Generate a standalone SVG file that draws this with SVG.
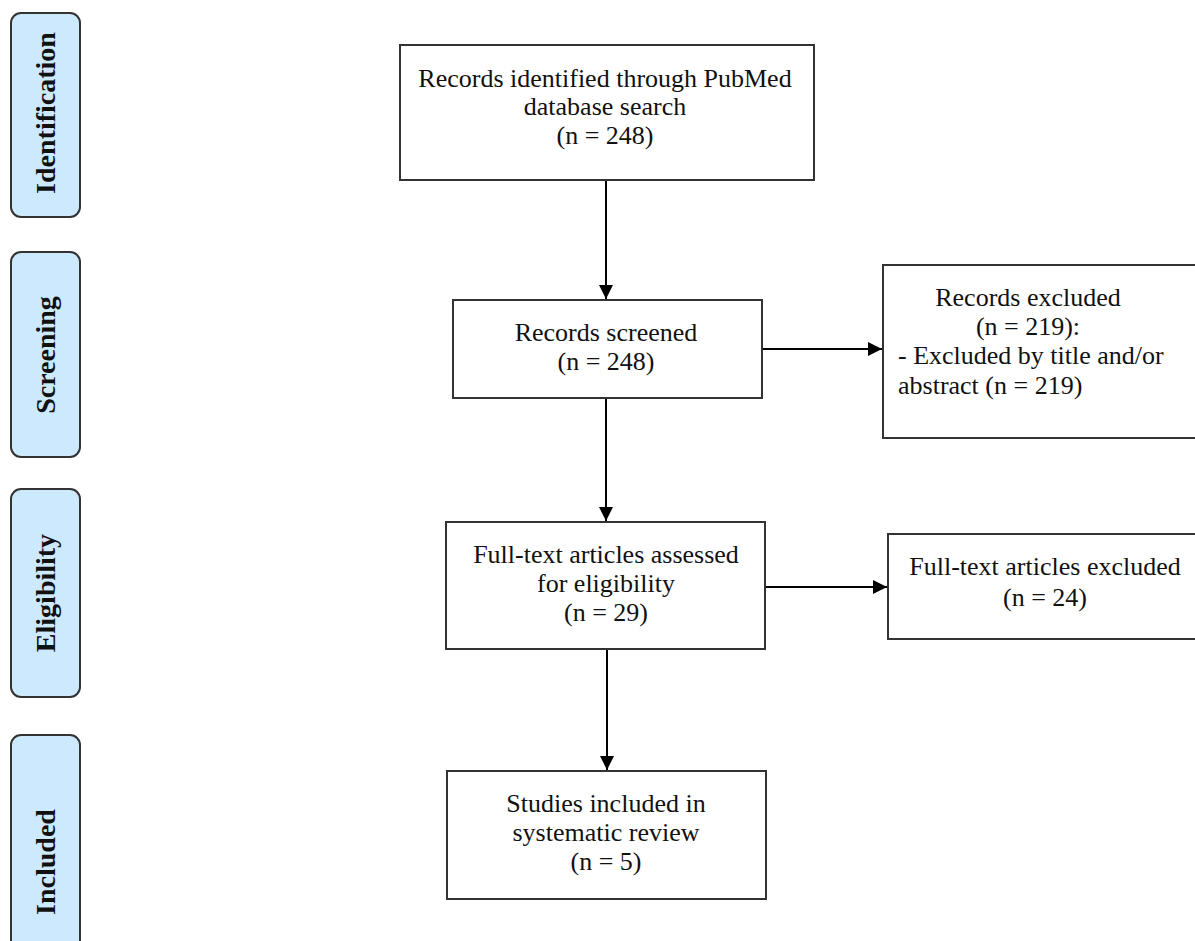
<svg xmlns="http://www.w3.org/2000/svg" width="1195" height="941" viewBox="0 0 1195 941">
<defs>
<marker id="ah" viewBox="0 0 14 14" refX="14" refY="7" markerWidth="14" markerHeight="14" markerUnits="userSpaceOnUse" orient="auto">
<path d="M0,0 L14,7 L0,14 z" fill="#000"/>
</marker>
<style>
.box{fill:#fff;stroke:#333;stroke-width:2}
.side{fill:#cce9fd;stroke:#333;stroke-width:2}
.t{font-family:"Liberation Serif","Times New Roman",serif;font-size:26px;fill:#111}
.c{text-anchor:middle}
.s{font-family:"Liberation Serif","Times New Roman",serif;font-size:28px;font-weight:bold;fill:#111;text-anchor:middle}
.ln{stroke:#000;stroke-width:2;fill:none;marker-end:url(#ah)}
</style>
</defs>
<rect width="1195" height="941" fill="#fff"/>
<g id="stage-identification">
<rect class="side" x="11" y="13" width="69" height="204" rx="10"/>
<text class="s" transform="translate(55,113) rotate(-90)">Identification</text>
</g>
<g id="stage-screening">
<rect class="side" x="11" y="252" width="69" height="205" rx="10"/>
<text class="s" transform="translate(55,355) rotate(-90)">Screening</text>
</g>
<g id="stage-eligibility">
<rect class="side" x="11" y="489" width="69" height="208" rx="10"/>
<text class="s" transform="translate(55,593) rotate(-90)">Eligibility</text>
</g>
<g id="stage-included">
<rect class="side" x="11" y="735" width="69" height="220" rx="10"/>
<text class="s" transform="translate(55,862) rotate(-90)">Included</text>
</g>
<g id="connectors">
<line class="ln" x1="606" y1="180" x2="606" y2="299"/>
<line class="ln" x1="762" y1="349" x2="882" y2="349"/>
<line class="ln" x1="606" y1="398" x2="606" y2="521"/>
<line class="ln" x1="765" y1="587" x2="887" y2="587"/>
<line class="ln" x1="607" y1="649" x2="607" y2="770"/>
</g>
<g id="node-identified">
<rect class="box" x="400" y="45" width="414" height="135"/>
<text class="t c" x="605" y="87">Records identified through PubMed</text>
<text class="t c" x="605" y="115">database search</text>
<text class="t c" x="605" y="144">(n = 248)</text>
</g>
<g id="node-screened">
<rect class="box" x="453" y="300" width="309" height="98"/>
<text class="t c" x="606" y="341">Records screened</text>
<text class="t c" x="606" y="370">(n = 248)</text>
</g>
<g id="node-excluded-records">
<rect class="box" x="883" y="265" width="330" height="173"/>
<text class="t c" x="1028" y="306">Records excluded</text>
<text class="t c" x="1028" y="335">(n = 219):</text>
<text class="t" x="898" y="364">- Excluded by title and/or</text>
<text class="t" x="898" y="394">abstract (n = 219)</text>
</g>
<g id="node-fulltext">
<rect class="box" x="446" y="522" width="319" height="127"/>
<text class="t c" x="606" y="563">Full-text articles assessed</text>
<text class="t c" x="606" y="592">for eligibility</text>
<text class="t c" x="606" y="621">(n = 29)</text>
</g>
<g id="node-fulltext-excluded">
<rect class="box" x="888" y="534" width="320" height="105"/>
<text class="t c" x="1045" y="575">Full-text articles excluded</text>
<text class="t c" x="1045" y="606">(n = 24)</text>
</g>
<g id="node-included">
<rect class="box" x="447" y="771" width="319" height="128"/>
<text class="t c" x="606" y="812">Studies included in</text>
<text class="t c" x="606" y="841">systematic review</text>
<text class="t c" x="606" y="870">(n = 5)</text>
</g>
</svg>
